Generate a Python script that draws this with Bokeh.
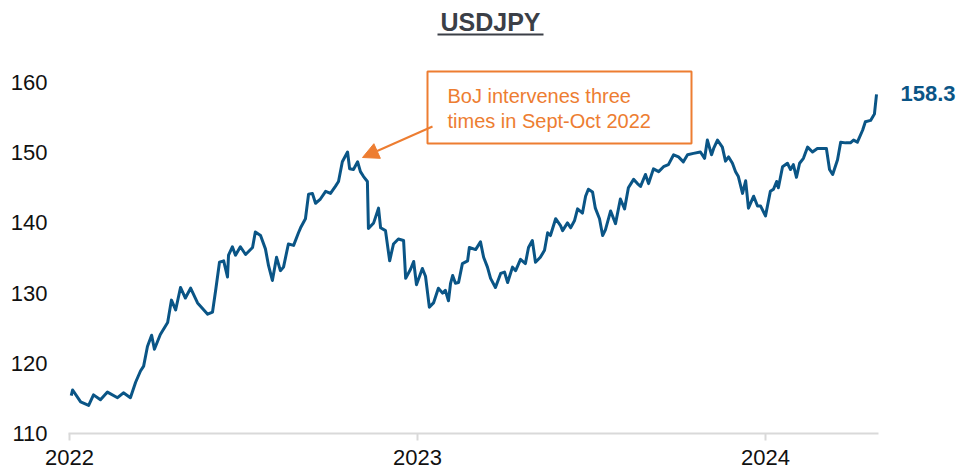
from bokeh.plotting import figure
from bokeh.models import (Range1d, FixedTicker, Label, BoxAnnotation, Arrow,
                          NormalHead, ColumnDataSource)
from bokeh.embed import file_html
from bokeh.resources import INLINE

# ---------------- data ----------------
# time in decimal years (2022.0 = 1 Jan 2022)
year_frac = [
    0.005, 0.009, 0.032, 0.055, 0.069, 0.089, 0.109, 0.138, 0.155, 0.175,
    0.190, 0.204, 0.213, 0.224, 0.236, 0.244, 0.261, 0.282, 0.293, 0.305,
    0.319, 0.333, 0.348, 0.368, 0.397, 0.411, 0.420, 0.431, 0.443, 0.454,
    0.457, 0.468, 0.477, 0.491, 0.506, 0.526, 0.534, 0.549, 0.563, 0.572,
    0.583, 0.595, 0.606, 0.615, 0.629, 0.644, 0.658, 0.664, 0.678, 0.687,
    0.698, 0.707, 0.721, 0.736, 0.750, 0.764, 0.773, 0.784, 0.799, 0.805,
    0.816, 0.828, 0.836, 0.845, 0.856, 0.859, 0.874, 0.888, 0.894, 0.908,
    0.920, 0.931, 0.945, 0.960, 0.966, 0.980, 0.989, 0.997, 1.014, 1.023,
    1.034, 1.046, 1.060, 1.072, 1.080, 1.089, 1.095, 1.101, 1.109, 1.118,
    1.129, 1.144, 1.149, 1.167, 1.181, 1.190, 1.201, 1.210, 1.224, 1.239,
    1.250, 1.259, 1.273, 1.282, 1.296, 1.310, 1.319, 1.330, 1.339, 1.353,
    1.365, 1.374, 1.382, 1.397, 1.411, 1.417, 1.431, 1.440, 1.451, 1.460,
    1.474, 1.483, 1.491, 1.503, 1.511, 1.523, 1.532, 1.540, 1.555, 1.569,
    1.583, 1.595, 1.606, 1.621, 1.632, 1.641, 1.655, 1.664, 1.678, 1.693,
    1.707, 1.721, 1.736, 1.750, 1.764, 1.776, 1.793, 1.813, 1.825, 1.833,
    1.845, 1.851, 1.862, 1.876, 1.885, 1.894, 1.905, 1.914, 1.922, 1.934,
    1.943, 1.951, 1.966, 1.977, 1.986, 2.000, 2.014, 2.023, 2.032, 2.037,
    2.049, 2.063, 2.072, 2.080, 2.089, 2.098, 2.109, 2.121, 2.135, 2.149,
    2.164, 2.175, 2.184, 2.193, 2.207, 2.216, 2.230, 2.244, 2.253, 2.264,
    2.279, 2.287, 2.302, 2.313, 2.319,
]
usdjpy = [
    115.4, 116.2, 114.5, 114.0, 115.5, 114.8, 115.9, 115.1, 115.8, 115.1,
    117.3, 118.9, 119.6, 122.4, 124.0, 122.0, 124.1, 125.8, 129.0, 127.6,
    130.8, 129.3, 130.7, 128.6, 127.0, 127.3, 130.4, 134.4, 134.6, 132.3,
    135.4, 136.6, 135.4, 136.6, 135.5, 136.5, 138.7, 138.2, 136.3, 133.9,
    131.8, 135.1, 133.2, 133.7, 137.0, 136.8, 138.6, 139.3, 140.6, 144.1,
    144.2, 142.8, 143.4, 144.5, 144.2, 145.2, 145.9, 148.7, 150.1, 147.7,
    147.6, 148.7, 147.3, 146.6, 145.9, 139.2, 140.0, 142.1, 139.3, 138.9,
    134.6, 137.0, 137.7, 137.5, 132.1, 133.4, 134.5, 131.2, 133.5, 132.4,
    128.0, 128.6, 130.7, 130.0, 130.4, 128.9, 131.4, 132.5, 131.4, 131.5,
    134.2, 134.6, 136.5, 136.2, 137.3, 135.1, 133.7, 132.1, 130.8, 132.8,
    133.0, 131.5, 133.7, 133.2, 134.8, 134.2, 136.5, 137.5, 134.4, 135.1,
    136.1, 138.6, 138.2, 140.6, 139.6, 138.9, 140.0, 139.3, 140.3, 142.0,
    141.4, 143.8, 144.8, 144.4, 142.1, 140.6, 138.2, 139.0, 141.7, 139.9,
    143.4, 142.0, 145.0, 146.2, 145.6, 145.2, 146.9, 145.6, 147.7, 147.3,
    148.0, 148.3, 149.7, 149.4, 148.7, 149.7, 149.9, 150.1, 149.2, 151.8,
    149.7, 150.6, 151.8, 150.8, 148.8, 149.4, 148.5, 147.3, 146.6, 144.2,
    146.0, 142.1, 143.8, 142.4, 142.4, 141.0, 144.5, 144.8, 145.9, 145.0,
    148.0, 148.5, 147.6, 148.3, 146.5, 148.5, 149.2, 150.8, 150.1, 150.6,
    150.6, 150.6, 147.6, 146.9, 149.0, 151.5, 151.4, 151.4, 151.8, 151.5,
    153.2, 154.4, 154.6, 155.5, 158.3,
]
start_year = 2022
x_ticks = [2022, 2023, 2024]
y_ticks = [110, 120, 130, 140, 150, 160]
title_text = "USDJPY"
note_lines = ["BoJ intervenes three", "times in Sept-Oct 2022"]
last_label = "158.3"

years = [start_year + f for f in year_frac]

# ---------------- layout helpers ----------------
W, H = 959, 470
FL, FR, FT, FB = 58, 959, 0, 433          # frame edges (px)
PX_2022, PX_PER_YEAR = 69, 348.0
PX_PER_UNIT = 7.02
X0 = 2022 - (PX_2022 - FL) / PX_PER_YEAR
X1 = 2022 + (FR - PX_2022) / PX_PER_YEAR
Y0 = 110
Y1 = Y0 + (FB - FT) / PX_PER_UNIT


def sx(px):
    return X0 + (px - FL) / PX_PER_YEAR


def sy(py):
    return Y0 + (FB - py) / PX_PER_UNIT


BLUE = "#0a5586"
ORANGE = "#ed7d31"
FONT = "Liberation Sans"

p = figure(width=W, height=H, output_backend="svg", toolbar_location=None,
           x_range=Range1d(X0, X1), y_range=Range1d(Y0, Y1),
           min_border_left=FL, min_border_right=0, min_border_top=0,
           min_border_bottom=H - FB)
p.outline_line_color = None
p.xgrid.visible = False
p.ygrid.visible = False
p.background_fill_color = "white"
p.border_fill_color = "white"

# x axis
xa = p.xaxis[0]
xa.ticker = FixedTicker(ticks=x_ticks)
xa.bounds = (2021.997, years[-1] + 0.005)
xa.axis_line_color = "#d9d9d9"
xa.axis_line_width = 2
xa.major_tick_line_color = "#d9d9d9"
xa.major_tick_line_width = 2
xa.major_tick_out = 7
xa.major_tick_in = 0
xa.minor_tick_line_color = None
xa.major_label_standoff = 9
xa.major_label_text_font = FONT
xa.major_label_text_font_size = "22px"
xa.major_label_text_color = "#111111"

# y axis
ya = p.yaxis[0]
ya.ticker = FixedTicker(ticks=y_ticks)
ya.axis_line_color = None
ya.major_tick_line_color = None
ya.minor_tick_line_color = None
ya.major_tick_out = 0
ya.major_tick_in = 0
ya.major_label_standoff = 11
ya.major_label_text_font = FONT
ya.major_label_text_font_size = "22px"
ya.major_label_text_color = "#111111"

src = ColumnDataSource(dict(x=years, y=usdjpy))
p.line("x", "y", source=src, line_color=BLUE, line_width=3,
       line_join="round")

# title (underlined)
p.add_layout(Label(x=sx(490), y=sy(21), text=title_text, text_align="center",
                   text_baseline="middle", text_font=FONT,
                   text_font_size="25px", text_font_style="bold",
                   text_color="#3b3f47"))
p.segment(x0=[sx(437)], y0=[sy(34)], x1=[sx(543)], y1=[sy(34)],
          line_color="#3b3f47", line_width=2)

# annotation box
p.add_layout(BoxAnnotation(left=sx(427), right=sx(691), top=sy(71),
                           bottom=sy(143), fill_color=None, fill_alpha=0,
                           line_color=ORANGE, line_alpha=1.0, line_width=2))
for i, t in enumerate(note_lines):
    p.add_layout(Label(x=sx(447), y=sy(95 + 25 * i), text=t,
                       text_align="left", text_baseline="middle",
                       text_font=FONT, text_font_size="20px",
                       text_color=ORANGE))
p.add_layout(Arrow(x_start=sx(432), y_start=sy(126), x_end=sx(362),
                   y_end=sy(157), line_color=ORANGE, line_width=2,
                   end=NormalHead(size=16, fill_color=ORANGE,
                                  line_color=ORANGE)))

# last value label
p.add_layout(Label(x=sx(900), y=sy(93), text=last_label, text_align="left",
                   text_baseline="middle", text_font=FONT,
                   text_font_size="22px", text_font_style="bold",
                   text_color=BLUE))

open("out.html", "w").write(file_html(p, INLINE))
